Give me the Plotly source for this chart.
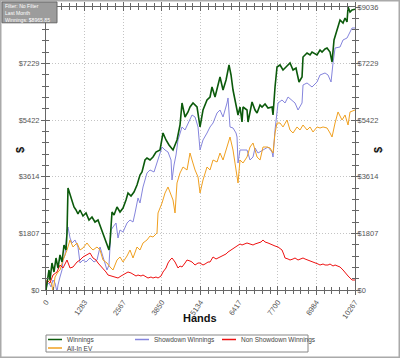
import plotly.graph_objects as go

# ---------------- data ----------------
x_tick_values = [0, 1283, 2567, 3850, 5134, 6417, 7700, 8984, 10267]
x_tick_labels = ["0", "1283", "2567", "3850", "5134", "6417", "7700", "8984", "10267"]
y_tick_values = [0, 1807, 3614, 5422, 7229, 9036]
y_tick_labels = ["$0", "$1807", "$3614", "$5422", "$7229", "$9036"]

winnings_hands = [0, 33, 100, 133, 199, 266, 332, 399, 465, 532, 598, 665, 698, 731, 798, 864, 930, 997,
                  1063, 1130, 1229, 1329, 1429, 1528, 1628, 1728, 1827, 1927, 2027, 2093, 2127, 2193, 2260,
                  2359, 2459, 2559, 2658, 2725, 2824, 2924, 3024, 3123, 3190, 3290, 3356, 3456, 3555, 3655,
                  3788, 3888, 3988, 4087, 4220, 4353, 4453, 4519, 4619, 4719, 4785, 4885, 5018, 5118, 5217,
                  5350, 5450, 5516, 5616, 5716, 5782, 5882, 5982, 6081, 6148, 6214, 6314, 6380, 6447, 6513,
                  6546, 6679, 6713, 6846, 6945, 7012, 7112, 7178, 7278, 7377, 7510, 7543, 7610, 7676, 7776,
                  7875, 7975, 8108, 8208, 8307, 8341, 8407, 8507, 8540, 8673, 8773, 8839, 8939, 9005, 9105,
                  9172, 9271, 9338, 9437, 9504, 9570, 9670, 9770, 9869, 9936, 10002, 10036, 10102, 10169, 10267]
winnings_usd = [0, 255, 639, 319, 862, 575, 1022, 702, 1118, 894, 1437, 1277, 1820, 3257, 3033, 2874, 2650, 2554,
                2427, 2554, 2363, 2459, 2235, 2331, 2171, 2235, 1980, 1660, 1437, 1277, 1533, 2491, 2395,
                2650, 2491, 2618, 2874, 3097, 3001, 3129, 3353, 3672, 3768, 4151, 4215, 4151, 4247, 4406,
                4470, 5013, 4790, 4630, 4470, 4790, 5268, 5971, 5524, 5684, 5843, 5971, 5843, 5205, 5747,
                6067, 6162, 6482, 6162, 6546, 6801, 6386, 6705, 7184, 6865, 6386, 5907, 5588, 5843, 5364,
                5843, 5747, 5364, 6003, 5747, 5652, 5907, 5843, 5939, 5811, 5843, 5588, 6482, 7120, 7184,
                7025, 7120, 7248, 7025, 7088, 6929, 6641, 6801, 7440, 7567, 7504, 7599, 7535, 7504, 7663,
                7599, 7695, 7727, 7599, 7280, 7983, 8302, 8621, 8525, 8685, 8557, 9036, 8877, 8940, 8966]

showdown_hands = [0, 33, 100, 166, 233, 299, 366, 399, 465, 532, 565, 632, 698, 731, 798, 864, 964, 1063,
                  1130, 1229, 1329, 1462, 1595, 1695, 1795, 1894, 1961, 2027, 2093, 2160, 2227, 2326, 2393,
                  2459, 2559, 2692, 2791, 2891, 2958, 3057, 3123, 3223, 3356, 3456, 3589, 3722, 3855, 3955,
                  4054, 4154, 4187, 4254, 4320, 4387, 4519, 4619, 4719, 4852, 4952, 5051, 5118, 5217, 5350,
                  5450, 5550, 5683, 5782, 5882, 6015, 6048, 6114, 6214, 6314, 6347, 6380, 6447, 6546, 6679,
                  6779, 6879, 6945, 7045, 7211, 7377, 7510, 7543, 7610, 7710, 7842, 7942, 8042, 8175, 8274,
                  8374, 8507, 8540, 8673, 8839, 9005, 9105, 9271, 9371, 9471, 9537, 9604, 9770, 9869, 10002,
                  10102, 10169, 10267]
showdown_usd = [0, 160, 224, 96, 319, 224, -60, 160, 415, 639, 958, 1118, 1916, 2012, 1660, 1501, 1597, 1373,
                862, 958, 894, 1022, 894, 958, 1373, 1054, 798, 639, 798, 1916, 2012, 2139, 1660,
                1916, 1852, 2139, 2235, 2171, 2459, 2938, 2778, 3289, 3736, 3832, 3768, 4151, 4566, 4470,
                4406, 4151, 3512, 3991, 4311, 4790, 5205, 5109, 5332, 5588, 5524, 5205, 4470, 4790, 5013,
                5205, 5332, 5652, 5747, 5524, 5971, 6131, 5205, 5173, 5013, 4885, 4055, 4470, 4470, 4470,
                4151, 4247, 4534, 4374, 4470, 4566, 4406, 4247, 5109, 5971, 6067, 5971, 6162, 6067, 5971,
                5747, 5971, 6546, 6610, 6482, 6641, 6865, 6929, 6865, 6641, 7248, 7727, 7759, 7983, 8046,
                8238, 8366, 8366]

nonshowdown_hands = [0, 33, 133, 233, 366, 465, 565, 698, 798, 897, 1030, 1130, 1229, 1362, 1462, 1562, 1662,
                     1728, 1828, 1894, 1994, 2060, 2160, 2227, 2326, 2393, 2493, 2559, 2658, 2725, 2824, 2891,
                     2991, 3057, 3157, 3223, 3323, 3389, 3489, 3555, 3655, 3722, 3822, 3888, 3988, 4054, 4121,
                     4187, 4287, 4387, 4453, 4519, 4619, 4686, 4785, 4852, 4952, 5051, 5118, 5217, 5284, 5384,
                     5450, 5550, 5650, 5716, 5816, 5882, 5982, 6048, 6148, 6214, 6314, 6380, 6447, 6513, 6613,
                     6679, 6779, 6879, 6945, 7045, 7145, 7211, 7278, 7377, 7444, 7543, 7610, 7710, 7776, 7842,
                     7909, 7942, 8042, 8108, 8208, 8274, 8374, 8440, 8540, 8607, 8706, 8773, 8872, 8939, 9039,
                     9105, 9205, 9271, 9371, 9437, 9537, 9604, 9703, 9770, 9869, 9936, 10036, 10102, 10169, 10267]
nonshowdown_usd = [0, 319, 224, 479, 575, 798, 702, 958, 702, 734, 894, 958, 1054, 1118, 1181, 1022, 958,
                   862, 766, 702, 575, 479, 447, 415, 383, 383, 447, 479, 543, 575, 543, 511,
                   447, 479, 447, 479, 415, 383, 415, 383, 415, 383, 447, 575, 702, 862, 958,
                   1022, 894, 702, 766, 734, 862, 958, 926, 894, 798, 862, 862, 798, 830, 894,
                   894, 1054, 990, 1022, 1054, 1086, 1150, 1213, 1277, 1341, 1405, 1437, 1469, 1437, 1469,
                   1501, 1469, 1437, 1469, 1501, 1533, 1597, 1533, 1501, 1469, 1437, 1405, 1373, 1309, 1277,
                   1118, 1022, 990, 958, 990, 1022, 958, 990, 1022, 990, 958, 926, 894, 862, 830,
                   798, 830, 798, 798, 830, 766, 798, 766, 734, 639, 575, 447, 383, 319, 319]

allin_hands = [0, 33, 133, 199, 233, 299, 399, 465, 565, 632, 698, 798, 897, 1030, 1130, 1229, 1362, 1462,
               1562, 1695, 1795, 1894, 2027, 2127, 2227, 2359, 2459, 2559, 2692, 2791, 2891, 3024, 3123,
               3223, 3356, 3456, 3555, 3688, 3722, 3855, 3955, 4054, 4121, 4220, 4287, 4353, 4453, 4553,
               4686, 4785, 4852, 4952, 5051, 5118, 5217, 5350, 5450, 5550, 5683, 5782, 5882, 6015, 6114,
               6214, 6347, 6380, 6447, 6546, 6679, 6779, 6879, 7012, 7112, 7211, 7344, 7444, 7543, 7610,
               7676, 7776, 7875, 8008, 8108, 8208, 8341, 8440, 8540, 8673, 8773, 8872, 9005, 9105, 9205,
               9338, 9437, 9504, 9604, 9703, 9836, 9936, 10036, 10102, 10267]
allin_usd = [0, 224, 319, 160, -96, 415, 575, 639, 958, 1118, 1277, 1597, 1373, 1501, 1277, 1341, 1501, 1373,
             1277, 1373, 1277, 958, 862, 734, 639, 958, 1054, 894, 1086, 1277, 1022, 1373, 1277,
             1501, 1597, 1724, 1692, 1820, 2459, 2778, 3097, 3289, 3097, 2874, 2459, 3417, 3736, 3927,
             3832, 4374, 4151, 3832, 3608, 3097, 3512, 3927, 3832, 4151, 4087, 4374, 4151, 4566, 4885,
             4470, 3608, 3417, 4151, 4055, 4247, 4566, 4694, 4247, 4151, 4566, 4566, 4534, 4374, 5013,
             5332, 5332, 5205, 5428, 5109, 5013, 5205, 5109, 5268, 5109, 5205, 5045, 5205, 5173, 5205,
             5173, 5013, 4885, 5332, 5684, 5428, 5588, 5268, 5684, 5747]

series_names = ["Winnings", "Showdown Winnings", "Non Showdown Winnings", "All-In EV"]
series_colors = ["#0b5a0b", "#8585dd", "#ee1111", "#f0a020"]
info_lines = ["Filter: No Filter", "Last Month", "Winnings: $8965.85"]

# left-hand top label is hidden under the info box in the original
y_tick_labels_left = y_tick_labels[:-1] + [""]

# ---------------- figure ----------------
W, H = 400, 358
L, R, T, B = 46, 45, 7, 68
PW, PH = W - L - R, H - T - B


def px_x(p):
    return (p - L) / PW


def px_y(p):
    return (H - B - p) / PH


FONT = "Liberation Sans, Arial, sans-serif"
GRID_DASH = "1px,2px"

fig = go.Figure()
data_x = [winnings_hands, showdown_hands, nonshowdown_hands, allin_hands]
data_y = [winnings_usd, showdown_usd, nonshowdown_usd, allin_usd]
widths = [1.6, 1, 1, 1]
draw_order = [1, 3, 2, 0]
for i in draw_order:
    fig.add_trace(go.Scatter(
        x=data_x[i], y=data_y[i], name=series_names[i], mode="lines",
        line=dict(color=series_colors[i], width=widths[i]),
        showlegend=False,
    ))
# carrier trace for overlay axes
fig.add_trace(go.Scatter(x=[None], y=[None], xaxis="x2", yaxis="y2", showlegend=False))

axis_common = dict(showline=True, linecolor="#666666", linewidth=1, zeroline=False,
                   tickcolor="#666666", fixedrange=True, automargin=False)

fig.update_layout(
    width=W, height=H, template="none",
    margin=dict(l=L, r=R, t=T, b=B, pad=0),
    paper_bgcolor="white", plot_bgcolor="white",
    font=dict(family=FONT, size=8, color="#555555"),
    showlegend=False,
    xaxis=dict(range=[0, 10267], tickmode="array", tickvals=x_tick_values, ticktext=x_tick_labels,
               tickangle=-55, ticks="outside", ticklen=4, mirror="allticks",
               showgrid=True, gridcolor="#c4c4c4", griddash=GRID_DASH, gridwidth=1,
               minor=dict(dtick=256.675, tick0=0, ticks="outside", ticklen=3, tickcolor="#666666", showgrid=False),
               tickfont=dict(size=7.5, color="#555555"), **axis_common),
    xaxis2=dict(range=[0, 10267], overlaying="x", side="bottom", tickmode="array", tickvals=x_tick_values,
                ticks="inside", ticklen=4, mirror="allticks", showticklabels=False, showgrid=False,
                minor=dict(dtick=256.675, tick0=0, ticks="inside", ticklen=3, tickcolor="#666666", showgrid=False),
                **axis_common),
    yaxis=dict(range=[0, 9036], tickmode="array", tickvals=y_tick_values, ticktext=y_tick_labels_left,
               ticks="outside", ticklen=4, mirror="allticks",
               showgrid=True, gridcolor="#c4c4c4", griddash=GRID_DASH, gridwidth=1,
               minor=dict(dtick=361.44, tick0=0, ticks="outside", ticklen=3, tickcolor="#666666", showgrid=False),
               tickfont=dict(size=7.5, color="#555555"), **axis_common),
    yaxis2=dict(range=[0, 9036], overlaying="y", side="right", tickmode="array", tickvals=y_tick_values,
                ticktext=y_tick_labels, ticks="inside", ticklen=4, mirror="allticks", showgrid=False,
                minor=dict(dtick=361.44, tick0=0, ticks="inside", ticklen=3, tickcolor="#666666", showgrid=False),
                tickfont=dict(size=7.5, color="#555555"), **axis_common),
)

shapes = []
annotations = []
# outer frame
shapes.append(dict(type="rect", xref="paper", yref="paper",
                   x0=px_x(0.75), x1=px_x(W - 0.75), y0=px_y(H - 0.75), y1=px_y(0.75),
                   line=dict(color="#aaaaaa", width=1.5), fillcolor="rgba(0,0,0,0)", layer="below"))
# info box
shapes.append(dict(type="rect", xref="paper", yref="paper",
                   x0=px_x(2), x1=px_x(57), y0=px_y(22.8), y1=px_y(2),
                   line=dict(color="#666666", width=1), fillcolor="#9c9c9c", layer="above"))
for k, line_text in enumerate(info_lines):
    annotations.append(dict(xref="paper", yref="paper", x=px_x(4), y=px_y(2.4 + 6.85 * k),
                            xanchor="left", yanchor="top", showarrow=False, borderpad=0, text=line_text,
                            font=dict(family=FONT, size=5.1, color="#ffffff")))
# axis titles
annotations.append(dict(xref="paper", yref="paper", x=px_x(12), y=px_y(150), text="<b>$</b>",
                        textangle=-90, showarrow=False, font=dict(family=FONT, size=11, color="#111111")))
annotations.append(dict(xref="paper", yref="paper", x=px_x(386), y=px_y(150), text="<b>$</b>",
                        textangle=-90, showarrow=False, font=dict(family=FONT, size=11, color="#111111")))
annotations.append(dict(xref="paper", yref="paper", x=px_x(200), y=px_y(326), text="<b>Hands</b>",
                        showarrow=False, font=dict(family=FONT, size=11, color="#111111")))

# legend (drawn manually to match the compact original)
shapes.append(dict(type="rect", xref="paper", yref="paper",
                   x0=px_x(46), x1=px_x(308), y0=px_y(352), y1=px_y(335),
                   line=dict(color="#888888", width=1), fillcolor="white"))
legend_pos = [(48, 339.5), (135, 339.5), (222, 339.5), (48, 348)]
for name, color, (lx, ly) in zip(series_names, series_colors, legend_pos):
    shapes.append(dict(type="line", xref="paper", yref="paper",
                       x0=px_x(lx), x1=px_x(lx + 14), y0=px_y(ly), y1=px_y(ly),
                       line=dict(color=color, width=1.5)))
    annotations.append(dict(xref="paper", yref="paper", x=px_x(lx + 17), y=px_y(ly), text=name,
                            xanchor="left", yanchor="middle", showarrow=False,
                            font=dict(family=FONT, size=6.5, color="#444444")))

fig.update_layout(shapes=shapes, annotations=annotations)
fig.write_html("out.html",
               config={"displayModeBar": False, "staticPlot": True},
               post_script="document.body.style.margin='0px';document.body.style.overflow='hidden';")
